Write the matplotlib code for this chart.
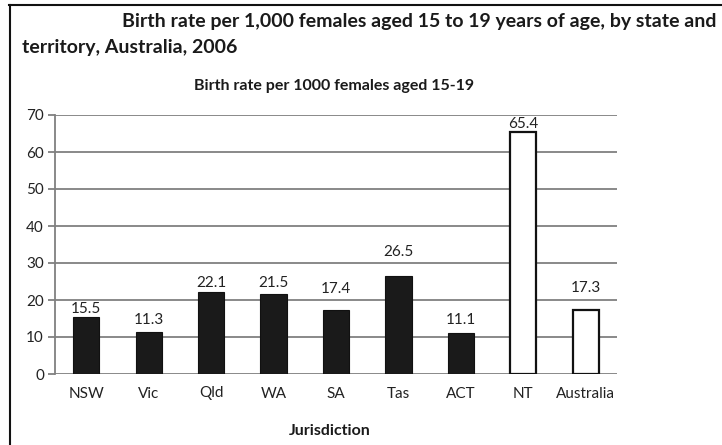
import numpy as np
import matplotlib.pyplot as plt

plt.rcParams['font.family'] = ['Lato', 'DejaVu Sans']

jurisdictions = ['NSW', 'Vic', 'Qld', 'WA', 'SA', 'Tas', 'ACT', 'NT', 'Australia']
birth_rate = [15.5, 11.3, 22.1, 21.5, 17.4, 26.5, 11.1, 65.4, 17.3]
hollow = [False, False, False, False, False, False, False, True, True]
# gap between bar top and label centre, in pixels (as placed in the original)
label_gap = [8, 12, 9, 11, 21, 24, 13, 8, 22]

W, H = 722, 445
fig = plt.figure(figsize=(W / 100, H / 100), dpi=100)
ax = fig.add_axes([55 / W, 1 - 374 / H, (617 - 55) / W, (374 - 115) / H])

x = np.arange(len(jurisdictions))
for xi, v, h in zip(x, birth_rate, hollow):
    ax.bar(xi, v, width=0.42, color='white' if h else '#1a1a1a',
           edgecolor='#111111', linewidth=1.6 if h else 0.8, zorder=3)

for xi, v, g in zip(x, birth_rate, label_gap):
    ax.annotate(f'{v}', (xi, v), xytext=(0, g * 0.72), textcoords='offset points',
                ha='center', va='center', fontsize=11, color='#222222')

ax.set_xlim(-0.5, len(jurisdictions) - 0.5)
ax.set_ylim(0, 70)
ax.set_yticks(range(0, 71, 10))
ax.set_xticks(x)
ax.set_xticklabels(jurisdictions)
ax.yaxis.grid(True, color='#808080', linewidth=1.3, zorder=0)
for s in ['top', 'right', 'bottom']:
    ax.spines[s].set_visible(False)
ax.spines['left'].set_color('#808080')
ax.spines['left'].set_linewidth(1.3)
ax.tick_params(axis='y', length=5, width=1.3, color='#808080', labelsize=11,
               labelcolor='#222222', pad=3)
ax.tick_params(axis='x', length=0, labelsize=11, labelcolor='#222222', pad=9)

fig.text(122 / W, 1 - 22 / H,
         'Birth rate per 1,000 females aged 15 to 19 years of age, by state and',
         ha='left', va='center', fontsize=14, fontweight='bold', color='#1a1a1a')
fig.text(22 / W, 1 - 47 / H, 'territory, Australia, 2006',
         ha='left', va='center', fontsize=14, fontweight='bold', color='#1a1a1a')
fig.text(334 / W, 1 - 86 / H, 'Birth rate per 1000 females aged 15-19',
         ha='center', va='center', fontsize=11.5, fontweight='bold', color='#1a1a1a')
fig.text(330 / W, 1 - 431 / H, 'Jurisdiction',
         ha='center', va='center', fontsize=11.5, fontweight='bold', color='#1a1a1a')

# frame lines at top and left of the image
fig.add_artist(plt.Line2D([9 / W, 1], [1 - 4.5 / H] * 2, color='#111111', lw=1.5))
fig.add_artist(plt.Line2D([9.5 / W] * 2, [0, 1 - 4.5 / H], color='#111111', lw=1.5))

fig.savefig('out.png', dpi=100)
